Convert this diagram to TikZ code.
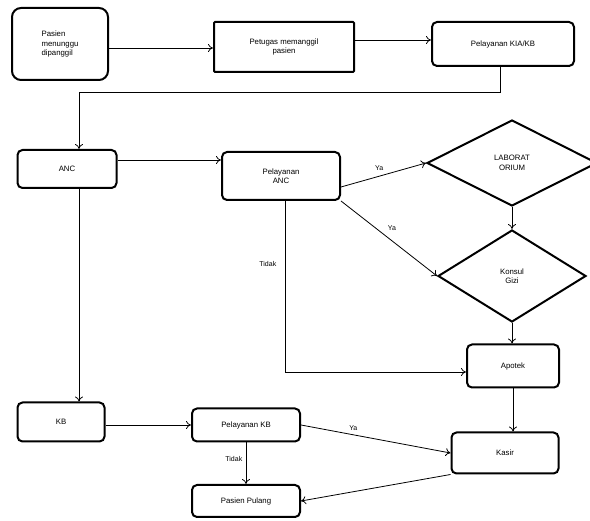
\documentclass[tikz,border=0pt]{standalone}
\usepackage{fontspec}
\setmainfont{Liberation Sans}
\usetikzlibrary{shapes.geometric,arrows.meta}
\begin{document}
\begin{tikzpicture}[x=1pt,y=-1pt,
  every node/.style={font=\fontsize{7.8}{9.5}\selectfont},
  proc/.style={draw,line width=2pt,rounded corners=5pt,align=center,inner sep=0pt},
  dec/.style={draw,line width=2pt,diamond,align=center,inner sep=0pt},
  conn/.style={line width=0.8pt,-{To[length=5pt,width=8pt]}},
  lbl/.style={font=\fontsize{7}{8}\selectfont}]
\useasboundingbox (0,0) rectangle (590,521);
\node[proc,minimum width=96pt,minimum height=72pt,rounded corners=9pt,align=left] (pm) at (60,44) {Pasien\\menunggu\\dipanggil};
\node[proc,rounded corners=1pt,minimum width=140pt,minimum height=50pt] (pt) at (284,47) {Petugas memanggil\\pasien};
\node[proc,minimum width=142pt,minimum height=44pt] (kia) at (503,44) {Pelayanan KIA/KB};
\node[proc,minimum width=99pt,minimum height=38pt] (anc) at (67,169) {ANC};
\node[proc,minimum width=118pt,minimum height=48pt] (panc) at (281,176) {Pelayanan\\ANC};
\node[dec,minimum width=170pt,minimum height=86pt] (lab) at (512,163) {LABORAT\\ORIUM};
\node[dec,minimum width=148pt,minimum height=92pt] (gizi) at (512,276) {Konsul\\Gizi};
\node[proc,minimum width=92pt,minimum height=43pt] (apo) at (513,366) {Apotek};
\node[proc,minimum width=107pt,minimum height=41pt] (kas) at (505,453) {Kasir};
\node[proc,minimum width=87pt,minimum height=39pt] (kb) at (61,422) {KB};
\node[proc,minimum width=108pt,minimum height=33pt] (pkb) at (246,425) {Pelayanan KB};
\node[proc,minimum width=108pt,minimum height=32pt] (pp) at (246,501) {Pasien Pulang};
\coordinate (k1) at (500,92);
\coordinate (k2) at (79,92);
\draw[conn] (pm.east |- 0,48) -- (pt.west |- 0,48);
\draw[conn] (pt.east |- 0,40) -- (kia.west |- 0,40);
\draw[conn] (kia.south -| k1) -- (k1) -- (k2) -- (k2 |- anc.north);
\draw[conn] (anc.east |- 0,160) -- (panc.west |- 0,160);
\draw[conn] (anc.south -| k2) -- (k2 |- kb.north);
\draw[conn] (panc.east |- 0,187) -- node[lbl,above,pos=0.45,yshift=2pt] {Ya} (lab.west);
\draw[conn] (panc.south east) -- node[lbl,above right,pos=0.45] {Ya} (gizi.west);
\coordinate (t1) at (285,372);
\draw[conn] (panc.south -| t1) -- node[lbl,left,pos=0.37,xshift=-5pt] {Tidak} (t1) -- (apo.west |- t1);
\draw[conn] (lab.south) -- (gizi.north);
\draw[conn] (gizi.south) -- (apo.north -| gizi.south);
\draw[conn] (apo.south) -- (kas.north -| apo.south);
\draw[conn] (kb.east |- 0,425) -- (pkb.west);
\draw[conn] (pkb.east) -- node[lbl,above,pos=0.35] {Ya} (kas.west);
\draw[conn] (pkb.south) -- node[lbl,left,pos=0.4] {Tidak} (pp.north);
\draw[conn] (kas.south west) -- (pp.east);
\end{tikzpicture}
\end{document}
